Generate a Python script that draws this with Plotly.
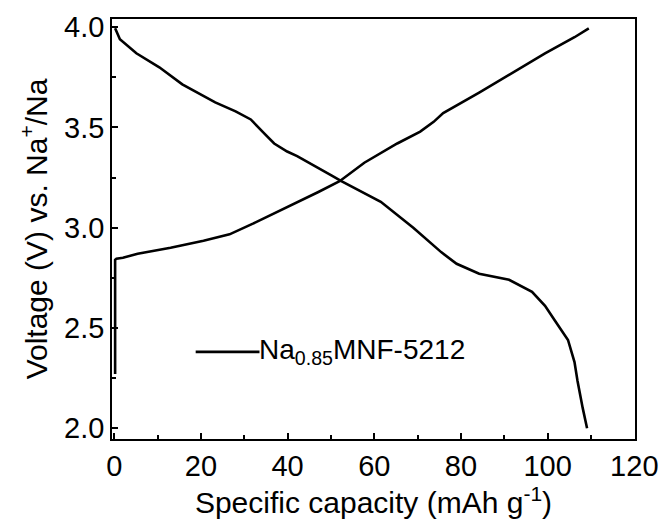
import plotly.graph_objects as go

# Charge curve (capacity in mAh/g, voltage in V)
charge_cap = [0.2, 0.2, 0.5, 2.0, 5.4, 13.0, 20.6, 26.6, 32.0, 39.5, 47.1, 52.0,
              57.7, 65.3, 70.6, 73.7, 75.9, 84.2, 91.8, 99.4, 106.2, 109.5]
charge_volt = [2.27, 2.84, 2.845, 2.85, 2.87, 2.90, 2.935, 2.967, 3.02, 3.097, 3.178, 3.232,
               3.324, 3.42, 3.479, 3.528, 3.572, 3.674, 3.772, 3.869, 3.95, 3.994]

# Discharge curve
discharge_cap = [0.2, 1.3, 5.1, 10.4, 15.7, 23.3, 28.0, 31.5, 34.6, 36.9, 39.9, 42.2, 50.2,
                 52.4, 61.5, 69.0, 75.5, 79.0, 84.2, 91.1, 96.4, 99.4, 101.7, 103.2, 104.7,
                 106.2, 106.9, 108.1, 109.1]
discharge_volt = [3.995, 3.94, 3.87, 3.80, 3.715, 3.625, 3.58, 3.54, 3.47, 3.42, 3.38, 3.357, 3.26,
                  3.232, 3.129, 3.0, 2.877, 2.82, 2.77, 2.74, 2.68, 2.61, 2.536, 2.49, 2.44,
                  2.33, 2.235, 2.10, 2.0]

x_ticks = [0, 20, 40, 60, 80, 100, 120]
y_ticks = [2.0, 2.5, 3.0, 3.5, 4.0]
y_tick_text = ["2.0", "2.5", "3.0", "3.5", "4.0"]

sample_name = "Na<sub>0.85</sub>MNF-5212"

FONT = "Liberation Sans, Arial, sans-serif"
line_style = dict(color="black", width=2.6)

fig = go.Figure()
fig.add_trace(go.Scatter(x=charge_cap, y=charge_volt, mode="lines", line=line_style,
                         showlegend=False))
fig.add_trace(go.Scatter(x=discharge_cap, y=discharge_volt, mode="lines", line=line_style,
                         showlegend=False))

axis_common = dict(
    showgrid=False, zeroline=False,
    showline=True, linecolor="black", linewidth=1.5, mirror=True,
    ticks="inside", ticklen=6, tickwidth=1.5, tickcolor="black",
    tickfont=dict(family=FONT, size=29, color="black"),
)

fig.update_xaxes(
    range=[-0.52, 120.16], tickvals=x_ticks,
    minor=dict(ticks="inside", ticklen=4, tickwidth=1.5, tickcolor="black", dtick=10, tick0=0),
    title=dict(text="Specific capacity (mAh g<sup>-1</sup>)",
               font=dict(family=FONT, size=30, color="black"), standoff=8),
    **axis_common,
)
fig.update_yaxes(
    range=[1.946, 4.041], tickvals=y_ticks, ticktext=y_tick_text,
    minor=dict(ticks="inside", ticklen=4, tickwidth=1.5, tickcolor="black", dtick=0.25, tick0=2.0),
    title=dict(text="Voltage (V) vs. Na<sup>+</sup>/Na",
               font=dict(family=FONT, size=30, color="black"), standoff=8),
    **axis_common,
)

# Legend key drawn as a long line sample with its label
fig.add_shape(type="line", xref="paper", yref="paper", x0=0.160, x1=0.282, y0=0.2075, y1=0.2075,
              line=dict(color="black", width=2.6))
fig.add_annotation(xref="paper", yref="paper", x=0.282, y=0.2075, xanchor="left", yanchor="middle",
                   text=sample_name, showarrow=False,
                   font=dict(family=FONT, size=28, color="black"), xshift=-2)

fig.update_layout(
    width=670, height=523,
    margin=dict(l=112, r=27, t=13, b=81),
    paper_bgcolor="white", plot_bgcolor="white",
)

fig.write_html("out.html")
